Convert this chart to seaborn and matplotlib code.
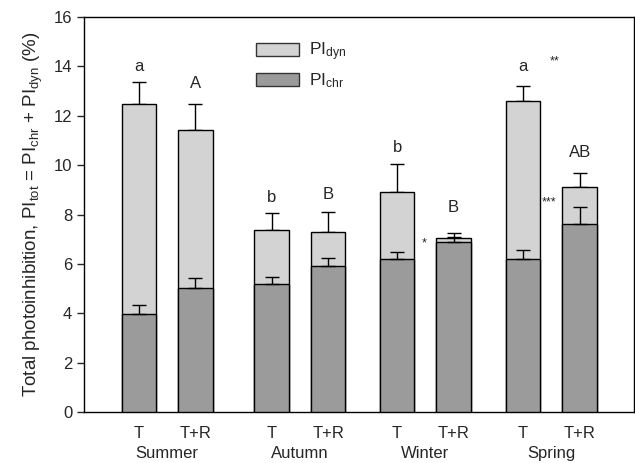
import numpy as np
import pandas as pd
import seaborn as sns
import matplotlib.pyplot as plt
from matplotlib.patches import Patch

# data
seasons = ["Summer", "Autumn", "Winter", "Spring"]
treatments = ["T", "T+R", "T", "T+R", "T", "T+R", "T", "T+R"]
pi_tot = [12.49, 11.42, 7.37, 7.30, 8.92, 7.04, 12.61, 9.13]
pi_tot_err = [0.89, 1.08, 0.70, 0.79, 1.11, 0.21, 0.61, 0.56]
pi_chr = [3.96, 5.03, 5.17, 5.91, 6.22, 6.91, 6.20, 7.60]
pi_chr_err = [0.39, 0.40, 0.31, 0.33, 0.27, 0.20, 0.36, 0.69]
letters = ["a", "A", "b", "B", "b", "B", "a", "AB"]
letter_y = [14.0, 13.3, 8.7, 8.8, 10.7, 8.3, 14.0, 10.5]

# layout
xpos = [0, 1, 2.35, 3.35, 4.57, 5.57, 6.8, 7.8]
light = "#d3d3d3"
dark = "#9b9b9b"

sns.set_theme(style="ticks")
plt.rcParams["font.family"] = ["Liberation Sans", "DejaVu Sans"]
plt.rcParams["mathtext.default"] = "regular"

df = pd.DataFrame({"x": xpos, "tot": pi_tot, "chr": pi_chr})

fig = plt.figure(figsize=(6.35, 4.63), dpi=100)
ax = fig.add_axes([0.1323, 0.110, 0.866, 0.853])

sns.barplot(data=df, x="x", y="tot", native_scale=True, width=0.61,
            color=light, saturation=1, edgecolor="black", linewidth=1,
            ax=ax, zorder=2)
sns.barplot(data=df, x="x", y="chr", native_scale=True, width=0.61,
            color=dark, saturation=1, edgecolor="black", linewidth=1,
            ax=ax, zorder=3)

# upper error bars only
zeros = np.zeros(len(xpos))
ax.errorbar(xpos, pi_tot, yerr=[zeros, pi_tot_err], fmt="none",
            ecolor="black", elinewidth=1, capsize=5, capthick=1, zorder=1)
ax.errorbar(xpos, pi_chr, yerr=[zeros, pi_chr_err], fmt="none",
            ecolor="black", elinewidth=1, capsize=5, capthick=1, zorder=4)

for x, s, y in zip(xpos, letters, letter_y):
    ax.text(x, y, s, ha="center", va="center", fontsize=12)

# significance marks
ax.text(7.35, 14.2, "**", ha="center", va="center", fontsize=9)
ax.text(7.26, 8.5, "***", ha="center", va="center", fontsize=9)
ax.text(5.05, 6.85, "*", ha="center", va="center", fontsize=9)

ax.set_xlim(-0.97, 8.76)
ax.set_ylim(0, 16)
ax.set_yticks(np.arange(0, 17, 2))
ax.set_xticks(xpos)
ax.set_xticklabels(treatments)
ax.tick_params(axis="x", length=0, labelsize=12, pad=10)
ax.tick_params(axis="y", length=5, width=1, labelsize=12, direction="out")
ax.set_xlabel("")
ax.set_ylabel("Total photoinhibition, PI$_{tot}$ = PI$_{chr}$ + PI$_{dyn}$ (%)",
              fontsize=13.5, labelpad=6)
for sp in ax.spines.values():
    sp.set_linewidth(1)
    sp.set_color("black")

for i, s in enumerate(seasons):
    cx = (xpos[2 * i] + xpos[2 * i + 1]) / 2
    ax.text(cx, -0.104, s, transform=ax.get_xaxis_transform(),
            ha="center", va="center", fontsize=12)

handles = [Patch(facecolor=light, edgecolor="#333333", linewidth=1),
           Patch(facecolor=dark, edgecolor="#333333", linewidth=1)]
ax.legend(handles, ["PI$_{dyn}$", "PI$_{chr}$"], loc="upper left",
          bbox_to_anchor=(0.312, 0.94), frameon=False, fontsize=12.5,
          handlelength=2.5, handleheight=0.75, handletextpad=0.6,
          labelspacing=0.45, borderpad=0, borderaxespad=0)

fig.savefig("out.png", dpi=100)
